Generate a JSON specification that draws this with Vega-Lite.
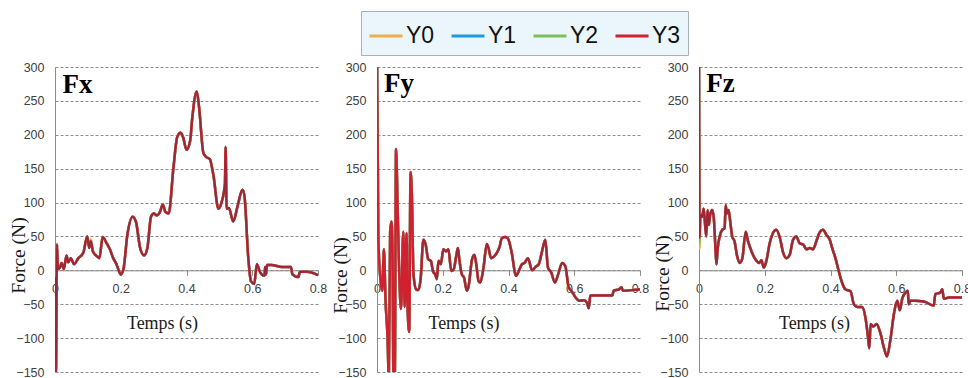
{
  "$schema": "https://vega.github.io/schema/vega-lite/v6.json",
  "background": "white",
  "padding": {"left": 8, "top": 10, "right": 0, "bottom": 2},
  "spacing": 59,
  "bounds": "flush",
  "resolve": {"scale": {"color": "shared"}},
  "config": {
    "view": {"stroke": null},
    "axis": {"labelFont": "Liberation Sans", "labelFontSize": 12.5, "labelColor": "#404040", "titleFont": "Liberation Serif", "titleFontWeight": "normal", "titleColor": "#1a1a1a", "domainColor": "#8c8c8c", "tickColor": "#8c8c8c", "gridColor": "#8c8c8c", "gridDash": [3, 2]},
    "axisX": {"tickSize": 5, "labelPadding": 7, "titleFontSize": 18, "titleBaseline": "alphabetic", "titleAlign": "center", "grid": false},
    "axisY": {"ticks": false, "tickSize": 0, "labelPadding": 11, "titleFontSize": 19.5, "titleAngle": 270, "titleBaseline": "bottom", "titleAlign": "center", "grid": true},
    "legend": {"fillColor": "#eaf6fc", "strokeColor": "#a8b0b8", "padding": 7, "labelFont": "Liberation Sans", "labelFontSize": 23, "labelColor": "#111111", "labelOffset": 2, "columnPadding": 10, "symbolType": "stroke", "symbolSize": 1089, "symbolStrokeWidth": 3}
  },
  "datasets": {
    "d": [
      {"c":"Fx","t":0.001,"Y0":-10,"Y1":-10,"Y2":-10,"Y3":-10},
      {"c":"Fx","t":0.003,"Y0":-150,"Y1":-150,"Y2":-150,"Y3":-150},
      {"c":"Fx","t":0.006,"Y0":38,"Y1":38,"Y2":38,"Y3":38},
      {"c":"Fx","t":0.009,"Y0":2,"Y1":2,"Y2":2,"Y3":2},
      {"c":"Fx","t":0.015,"Y0":4,"Y1":4,"Y2":4,"Y3":4},
      {"c":"Fx","t":0.02,"Y0":11,"Y1":11,"Y2":11,"Y3":11},
      {"c":"Fx","t":0.027,"Y0":2,"Y1":2,"Y2":2,"Y3":2},
      {"c":"Fx","t":0.035,"Y0":22,"Y1":22,"Y2":22,"Y3":22},
      {"c":"Fx","t":0.04,"Y0":12,"Y1":12,"Y2":12,"Y3":12},
      {"c":"Fx","t":0.048,"Y0":18,"Y1":18,"Y2":18,"Y3":18},
      {"c":"Fx","t":0.058,"Y0":9,"Y1":9,"Y2":9,"Y3":9},
      {"c":"Fx","t":0.071,"Y0":18,"Y1":18,"Y2":18,"Y3":18},
      {"c":"Fx","t":0.086,"Y0":26,"Y1":26,"Y2":26,"Y3":26},
      {"c":"Fx","t":0.098,"Y0":47,"Y1":50,"Y2":50,"Y3":50},
      {"c":"Fx","t":0.104,"Y0":38,"Y1":33,"Y2":33,"Y3":33},
      {"c":"Fx","t":0.109,"Y0":46,"Y1":43,"Y2":43,"Y3":43},
      {"c":"Fx","t":0.115,"Y0":30,"Y1":28,"Y2":28,"Y3":28},
      {"c":"Fx","t":0.127,"Y0":21,"Y1":21,"Y2":21,"Y3":21},
      {"c":"Fx","t":0.135,"Y0":18,"Y1":18,"Y2":18,"Y3":18},
      {"c":"Fx","t":0.145,"Y0":49,"Y1":49,"Y2":49,"Y3":49},
      {"c":"Fx","t":0.157,"Y0":40,"Y1":40,"Y2":40,"Y3":40},
      {"c":"Fx","t":0.167,"Y0":31,"Y1":31,"Y2":31,"Y3":31},
      {"c":"Fx","t":0.177,"Y0":18,"Y1":18,"Y2":18,"Y3":18},
      {"c":"Fx","t":0.186,"Y0":10,"Y1":10,"Y2":10,"Y3":10},
      {"c":"Fx","t":0.193,"Y0":1,"Y1":1,"Y2":1,"Y3":1},
      {"c":"Fx","t":0.2,"Y0":-6,"Y1":-6,"Y2":-6,"Y3":-6},
      {"c":"Fx","t":0.208,"Y0":1,"Y1":1,"Y2":1,"Y3":1},
      {"c":"Fx","t":0.22,"Y0":52,"Y1":52,"Y2":52,"Y3":52},
      {"c":"Fx","t":0.236,"Y0":79,"Y1":79,"Y2":79,"Y3":79},
      {"c":"Fx","t":0.246,"Y0":72,"Y1":72,"Y2":72,"Y3":72},
      {"c":"Fx","t":0.259,"Y0":33,"Y1":33,"Y2":33,"Y3":33},
      {"c":"Fx","t":0.271,"Y0":22,"Y1":22,"Y2":22,"Y3":22},
      {"c":"Fx","t":0.281,"Y0":33,"Y1":33,"Y2":33,"Y3":33},
      {"c":"Fx","t":0.292,"Y0":79,"Y1":79,"Y2":79,"Y3":79},
      {"c":"Fx","t":0.301,"Y0":84,"Y1":84,"Y2":84,"Y3":84},
      {"c":"Fx","t":0.309,"Y0":81,"Y1":81,"Y2":81,"Y3":81},
      {"c":"Fx","t":0.319,"Y0":86,"Y1":86,"Y2":86,"Y3":86},
      {"c":"Fx","t":0.328,"Y0":97,"Y1":97,"Y2":97,"Y3":97},
      {"c":"Fx","t":0.336,"Y0":86,"Y1":86,"Y2":86,"Y3":86},
      {"c":"Fx","t":0.346,"Y0":84,"Y1":84,"Y2":84,"Y3":84},
      {"c":"Fx","t":0.36,"Y0":150,"Y1":150,"Y2":150,"Y3":150},
      {"c":"Fx","t":0.372,"Y0":197,"Y1":197,"Y2":197,"Y3":197},
      {"c":"Fx","t":0.382,"Y0":203,"Y1":203,"Y2":203,"Y3":203},
      {"c":"Fx","t":0.39,"Y0":196,"Y1":196,"Y2":196,"Y3":196},
      {"c":"Fx","t":0.4,"Y0":178,"Y1":178,"Y2":178,"Y3":178},
      {"c":"Fx","t":0.411,"Y0":191,"Y1":191,"Y2":191,"Y3":191},
      {"c":"Fx","t":0.418,"Y0":227,"Y1":227,"Y2":227,"Y3":227},
      {"c":"Fx","t":0.431,"Y0":264,"Y1":264,"Y2":264,"Y3":264},
      {"c":"Fx","t":0.438,"Y0":242,"Y1":242,"Y2":242,"Y3":242},
      {"c":"Fx","t":0.451,"Y0":174,"Y1":174,"Y2":174,"Y3":174},
      {"c":"Fx","t":0.458,"Y0":168,"Y1":168,"Y2":168,"Y3":168},
      {"c":"Fx","t":0.471,"Y0":164,"Y1":164,"Y2":164,"Y3":164},
      {"c":"Fx","t":0.482,"Y0":140,"Y1":140,"Y2":140,"Y3":140},
      {"c":"Fx","t":0.497,"Y0":91,"Y1":91,"Y2":91,"Y3":91},
      {"c":"Fx","t":0.507,"Y0":101,"Y1":101,"Y2":101,"Y3":101},
      {"c":"Fx","t":0.517,"Y0":128,"Y1":128,"Y2":128,"Y3":128},
      {"c":"Fx","t":0.519,"Y0":182,"Y1":182,"Y2":182,"Y3":182},
      {"c":"Fx","t":0.522,"Y0":91,"Y1":91,"Y2":91,"Y3":91},
      {"c":"Fx","t":0.529,"Y0":92,"Y1":92,"Y2":92,"Y3":92},
      {"c":"Fx","t":0.542,"Y0":72,"Y1":72,"Y2":72,"Y3":72},
      {"c":"Fx","t":0.556,"Y0":96,"Y1":96,"Y2":96,"Y3":96},
      {"c":"Fx","t":0.57,"Y0":119,"Y1":119,"Y2":119,"Y3":119},
      {"c":"Fx","t":0.576,"Y0":111,"Y1":111,"Y2":111,"Y3":111},
      {"c":"Fx","t":0.588,"Y0":18,"Y1":18,"Y2":18,"Y3":18},
      {"c":"Fx","t":0.596,"Y0":-16,"Y1":-16,"Y2":-16,"Y3":-16},
      {"c":"Fx","t":0.606,"Y0":-20,"Y1":-20,"Y2":-20,"Y3":-20},
      {"c":"Fx","t":0.614,"Y0":9,"Y1":9,"Y2":9,"Y3":9},
      {"c":"Fx","t":0.624,"Y0":-3,"Y1":-3,"Y2":-3,"Y3":-3},
      {"c":"Fx","t":0.637,"Y0":-8,"Y1":-8,"Y2":-8,"Y3":-8},
      {"c":"Fx","t":0.639,"Y0":5,"Y1":5,"Y2":5,"Y3":5},
      {"c":"Fx","t":0.642,"Y0":-6,"Y1":-6,"Y2":-6,"Y3":-6},
      {"c":"Fx","t":0.645,"Y0":8,"Y1":8,"Y2":8,"Y3":8},
      {"c":"Fx","t":0.659,"Y0":8,"Y1":8,"Y2":8,"Y3":8},
      {"c":"Fx","t":0.69,"Y0":5,"Y1":5,"Y2":5,"Y3":5},
      {"c":"Fx","t":0.718,"Y0":5,"Y1":5,"Y2":5,"Y3":5},
      {"c":"Fx","t":0.722,"Y0":-6,"Y1":-6,"Y2":-6,"Y3":-6},
      {"c":"Fx","t":0.74,"Y0":-10,"Y1":-10,"Y2":-10,"Y3":-10},
      {"c":"Fx","t":0.745,"Y0":-2,"Y1":-2,"Y2":-2,"Y3":-2},
      {"c":"Fx","t":0.766,"Y0":-2,"Y1":-2,"Y2":-2,"Y3":-2},
      {"c":"Fx","t":0.8,"Y0":-7,"Y1":-7,"Y2":-7,"Y3":-7},

      {"c":"Fy","t":0.0,"Y0":320,"Y1":320,"Y2":320,"Y3":320},
      {"c":"Fy","t":0.004,"Y0":48,"Y1":48,"Y2":48,"Y3":48},
      {"c":"Fy","t":0.011,"Y0":-16,"Y1":-16,"Y2":-16,"Y3":-16},
      {"c":"Fy","t":0.016,"Y0":-30,"Y1":-30,"Y2":-30,"Y3":-30},
      {"c":"Fy","t":0.021,"Y0":31,"Y1":31,"Y2":31,"Y3":31},
      {"c":"Fy","t":0.026,"Y0":-45,"Y1":-45,"Y2":-45,"Y3":-45},
      {"c":"Fy","t":0.032,"Y0":-98,"Y1":-98,"Y2":-98,"Y3":-98},
      {"c":"Fy","t":0.036,"Y0":-160,"Y1":-160,"Y2":-160,"Y3":-160},
      {"c":"Fy","t":0.04,"Y0":57,"Y1":57,"Y2":57,"Y3":57},
      {"c":"Fy","t":0.044,"Y0":72,"Y1":72,"Y2":72,"Y3":72},
      {"c":"Fy","t":0.047,"Y0":33,"Y1":33,"Y2":33,"Y3":33},
      {"c":"Fy","t":0.05,"Y0":-160,"Y1":-160,"Y2":-160,"Y3":-160},
      {"c":"Fy","t":0.054,"Y0":-160,"Y1":-160,"Y2":-160,"Y3":-160},
      {"c":"Fy","t":0.058,"Y0":179,"Y1":179,"Y2":179,"Y3":179},
      {"c":"Fy","t":0.063,"Y0":86,"Y1":86,"Y2":86,"Y3":86},
      {"c":"Fy","t":0.068,"Y0":-11,"Y1":-11,"Y2":-11,"Y3":-11},
      {"c":"Fy","t":0.073,"Y0":-57,"Y1":-57,"Y2":-57,"Y3":-57},
      {"c":"Fy","t":0.08,"Y0":57,"Y1":57,"Y2":57,"Y3":57},
      {"c":"Fy","t":0.084,"Y0":-54,"Y1":-54,"Y2":-54,"Y3":-54},
      {"c":"Fy","t":0.09,"Y0":55,"Y1":55,"Y2":55,"Y3":55},
      {"c":"Fy","t":0.093,"Y0":-54,"Y1":-54,"Y2":-54,"Y3":-54},
      {"c":"Fy","t":0.098,"Y0":-91,"Y1":-91,"Y2":-91,"Y3":-91},
      {"c":"Fy","t":0.102,"Y0":145,"Y1":145,"Y2":145,"Y3":145},
      {"c":"Fy","t":0.106,"Y0":111,"Y1":111,"Y2":111,"Y3":111},
      {"c":"Fy","t":0.111,"Y0":-6,"Y1":-6,"Y2":-6,"Y3":-6},
      {"c":"Fy","t":0.119,"Y0":-28,"Y1":-28,"Y2":-28,"Y3":-28},
      {"c":"Fy","t":0.126,"Y0":-29,"Y1":-29,"Y2":-29,"Y3":-29},
      {"c":"Fy","t":0.133,"Y0":-11,"Y1":-11,"Y2":-11,"Y3":-11},
      {"c":"Fy","t":0.141,"Y0":45,"Y1":45,"Y2":45,"Y3":45},
      {"c":"Fy","t":0.148,"Y0":38,"Y1":38,"Y2":38,"Y3":38},
      {"c":"Fy","t":0.156,"Y0":16,"Y1":16,"Y2":16,"Y3":16},
      {"c":"Fy","t":0.164,"Y0":14,"Y1":14,"Y2":14,"Y3":14},
      {"c":"Fy","t":0.17,"Y0":-1,"Y1":-1,"Y2":-1,"Y3":-1},
      {"c":"Fy","t":0.177,"Y0":-6,"Y1":-6,"Y2":-6,"Y3":-6},
      {"c":"Fy","t":0.182,"Y0":-13,"Y1":-13,"Y2":-13,"Y3":-13},
      {"c":"Fy","t":0.187,"Y0":14,"Y1":14,"Y2":14,"Y3":14},
      {"c":"Fy","t":0.194,"Y0":9,"Y1":9,"Y2":9,"Y3":9},
      {"c":"Fy","t":0.202,"Y0":31,"Y1":31,"Y2":31,"Y3":31},
      {"c":"Fy","t":0.21,"Y0":28,"Y1":28,"Y2":28,"Y3":28},
      {"c":"Fy","t":0.217,"Y0":31,"Y1":31,"Y2":31,"Y3":31},
      {"c":"Fy","t":0.226,"Y0":-1,"Y1":-1,"Y2":-1,"Y3":-1},
      {"c":"Fy","t":0.233,"Y0":1,"Y1":1,"Y2":1,"Y3":1},
      {"c":"Fy","t":0.241,"Y0":21,"Y1":21,"Y2":21,"Y3":21},
      {"c":"Fy","t":0.246,"Y0":33,"Y1":33,"Y2":33,"Y3":33},
      {"c":"Fy","t":0.251,"Y0":14,"Y1":14,"Y2":14,"Y3":14},
      {"c":"Fy","t":0.258,"Y0":-6,"Y1":-6,"Y2":-6,"Y3":-6},
      {"c":"Fy","t":0.265,"Y0":-11,"Y1":-11,"Y2":-11,"Y3":-11},
      {"c":"Fy","t":0.273,"Y0":-30,"Y1":-30,"Y2":-30,"Y3":-30},
      {"c":"Fy","t":0.278,"Y0":-25,"Y1":-25,"Y2":-25,"Y3":-25},
      {"c":"Fy","t":0.289,"Y0":16,"Y1":16,"Y2":16,"Y3":16},
      {"c":"Fy","t":0.296,"Y0":23,"Y1":23,"Y2":23,"Y3":23},
      {"c":"Fy","t":0.302,"Y0":9,"Y1":9,"Y2":9,"Y3":9},
      {"c":"Fy","t":0.309,"Y0":-16,"Y1":-16,"Y2":-16,"Y3":-16},
      {"c":"Fy","t":0.314,"Y0":-18,"Y1":-18,"Y2":-18,"Y3":-18},
      {"c":"Fy","t":0.324,"Y0":4,"Y1":4,"Y2":4,"Y3":4},
      {"c":"Fy","t":0.334,"Y0":39,"Y1":39,"Y2":39,"Y3":39},
      {"c":"Fy","t":0.339,"Y0":33,"Y1":33,"Y2":33,"Y3":33},
      {"c":"Fy","t":0.347,"Y0":18,"Y1":18,"Y2":18,"Y3":18},
      {"c":"Fy","t":0.357,"Y0":21,"Y1":21,"Y2":21,"Y3":21},
      {"c":"Fy","t":0.365,"Y0":26,"Y1":26,"Y2":26,"Y3":26},
      {"c":"Fy","t":0.373,"Y0":35,"Y1":35,"Y2":35,"Y3":35},
      {"c":"Fy","t":0.38,"Y0":48,"Y1":48,"Y2":48,"Y3":48},
      {"c":"Fy","t":0.39,"Y0":49,"Y1":49,"Y2":49,"Y3":49},
      {"c":"Fy","t":0.398,"Y0":47,"Y1":47,"Y2":47,"Y3":47},
      {"c":"Fy","t":0.409,"Y0":28,"Y1":28,"Y2":28,"Y3":28},
      {"c":"Fy","t":0.423,"Y0":-8,"Y1":-8,"Y2":-8,"Y3":-8},
      {"c":"Fy","t":0.433,"Y0":1,"Y1":1,"Y2":1,"Y3":1},
      {"c":"Fy","t":0.441,"Y0":9,"Y1":9,"Y2":9,"Y3":9},
      {"c":"Fy","t":0.449,"Y0":11,"Y1":11,"Y2":11,"Y3":11},
      {"c":"Fy","t":0.459,"Y0":18,"Y1":18,"Y2":18,"Y3":18},
      {"c":"Fy","t":0.472,"Y0":0,"Y1":0,"Y2":0,"Y3":0},
      {"c":"Fy","t":0.482,"Y0":5,"Y1":5,"Y2":5,"Y3":5},
      {"c":"Fy","t":0.492,"Y0":9,"Y1":9,"Y2":9,"Y3":9},
      {"c":"Fy","t":0.502,"Y0":28,"Y1":28,"Y2":28,"Y3":28},
      {"c":"Fy","t":0.512,"Y0":45,"Y1":45,"Y2":45,"Y3":45},
      {"c":"Fy","t":0.52,"Y0":4,"Y1":4,"Y2":4,"Y3":4},
      {"c":"Fy","t":0.53,"Y0":-3,"Y1":-3,"Y2":-3,"Y3":-3},
      {"c":"Fy","t":0.541,"Y0":-18,"Y1":-18,"Y2":-18,"Y3":-18},
      {"c":"Fy","t":0.551,"Y0":-6,"Y1":-6,"Y2":-6,"Y3":-6},
      {"c":"Fy","t":0.563,"Y0":11,"Y1":11,"Y2":11,"Y3":11},
      {"c":"Fy","t":0.573,"Y0":6,"Y1":6,"Y2":6,"Y3":6},
      {"c":"Fy","t":0.583,"Y0":-25,"Y1":-25,"Y2":-25,"Y3":-25},
      {"c":"Fy","t":0.591,"Y0":-30,"Y1":-30,"Y2":-30,"Y3":-30},
      {"c":"Fy","t":0.604,"Y0":-40,"Y1":-40,"Y2":-40,"Y3":-40},
      {"c":"Fy","t":0.616,"Y0":-45,"Y1":-45,"Y2":-45,"Y3":-45},
      {"c":"Fy","t":0.629,"Y0":-44,"Y1":-44,"Y2":-44,"Y3":-44},
      {"c":"Fy","t":0.639,"Y0":-48,"Y1":-48,"Y2":-48,"Y3":-48},
      {"c":"Fy","t":0.644,"Y0":-56,"Y1":-56,"Y2":-56,"Y3":-56},
      {"c":"Fy","t":0.649,"Y0":-37,"Y1":-37,"Y2":-37,"Y3":-37},
      {"c":"Fy","t":0.716,"Y0":-37,"Y1":-37,"Y2":-37,"Y3":-37},
      {"c":"Fy","t":0.72,"Y0":-30,"Y1":-30,"Y2":-30,"Y3":-30},
      {"c":"Fy","t":0.736,"Y0":-28,"Y1":-28,"Y2":-28,"Y3":-28},
      {"c":"Fy","t":0.744,"Y0":-25,"Y1":-25,"Y2":-25,"Y3":-25},
      {"c":"Fy","t":0.748,"Y0":-30,"Y1":-30,"Y2":-30,"Y3":-30},
      {"c":"Fy","t":0.78,"Y0":-29,"Y1":-29,"Y2":-29,"Y3":-29},
      {"c":"Fy","t":0.8,"Y0":-28,"Y1":-28,"Y2":-28,"Y3":-28},

      {"c":"Fz","t":0.0,"Y0":320,"Y1":320,"Y2":320,"Y3":320},
      {"c":"Fz","t":0.002,"Y0":33,"Y1":48,"Y2":40,"Y3":48},
      {"c":"Fz","t":0.004,"Y0":82,"Y1":82,"Y2":82,"Y3":82},
      {"c":"Fz","t":0.01,"Y0":79,"Y1":79,"Y2":79,"Y3":79},
      {"c":"Fz","t":0.014,"Y0":91,"Y1":91,"Y2":91,"Y3":91},
      {"c":"Fz","t":0.017,"Y0":77,"Y1":77,"Y2":77,"Y3":77},
      {"c":"Fz","t":0.022,"Y0":50,"Y1":50,"Y2":50,"Y3":50},
      {"c":"Fz","t":0.026,"Y0":89,"Y1":89,"Y2":89,"Y3":89},
      {"c":"Fz","t":0.03,"Y0":67,"Y1":67,"Y2":67,"Y3":67},
      {"c":"Fz","t":0.034,"Y0":82,"Y1":82,"Y2":82,"Y3":82},
      {"c":"Fz","t":0.04,"Y0":89,"Y1":89,"Y2":89,"Y3":89},
      {"c":"Fz","t":0.045,"Y0":77,"Y1":77,"Y2":77,"Y3":77},
      {"c":"Fz","t":0.05,"Y0":33,"Y1":33,"Y2":33,"Y3":33},
      {"c":"Fz","t":0.053,"Y0":9,"Y1":9,"Y2":9,"Y3":9},
      {"c":"Fz","t":0.057,"Y0":33,"Y1":33,"Y2":33,"Y3":33},
      {"c":"Fz","t":0.063,"Y0":50,"Y1":50,"Y2":50,"Y3":50},
      {"c":"Fz","t":0.071,"Y0":60,"Y1":60,"Y2":60,"Y3":60},
      {"c":"Fz","t":0.078,"Y0":62,"Y1":62,"Y2":62,"Y3":62},
      {"c":"Fz","t":0.081,"Y0":96,"Y1":96,"Y2":96,"Y3":96},
      {"c":"Fz","t":0.085,"Y0":84,"Y1":84,"Y2":84,"Y3":84},
      {"c":"Fz","t":0.09,"Y0":89,"Y1":89,"Y2":89,"Y3":89},
      {"c":"Fz","t":0.095,"Y0":72,"Y1":72,"Y2":72,"Y3":72},
      {"c":"Fz","t":0.101,"Y0":50,"Y1":50,"Y2":50,"Y3":50},
      {"c":"Fz","t":0.108,"Y0":43,"Y1":43,"Y2":43,"Y3":43},
      {"c":"Fz","t":0.116,"Y0":21,"Y1":21,"Y2":21,"Y3":21},
      {"c":"Fz","t":0.124,"Y0":11,"Y1":11,"Y2":11,"Y3":11},
      {"c":"Fz","t":0.132,"Y0":18,"Y1":18,"Y2":18,"Y3":18},
      {"c":"Fz","t":0.142,"Y0":57,"Y1":57,"Y2":57,"Y3":57},
      {"c":"Fz","t":0.149,"Y0":43,"Y1":43,"Y2":43,"Y3":43},
      {"c":"Fz","t":0.156,"Y0":33,"Y1":33,"Y2":33,"Y3":33},
      {"c":"Fz","t":0.164,"Y0":23,"Y1":23,"Y2":23,"Y3":23},
      {"c":"Fz","t":0.172,"Y0":16,"Y1":16,"Y2":16,"Y3":16},
      {"c":"Fz","t":0.183,"Y0":11,"Y1":11,"Y2":11,"Y3":11},
      {"c":"Fz","t":0.19,"Y0":15,"Y1":15,"Y2":15,"Y3":15},
      {"c":"Fz","t":0.197,"Y0":4,"Y1":4,"Y2":4,"Y3":4},
      {"c":"Fz","t":0.205,"Y0":14,"Y1":14,"Y2":14,"Y3":14},
      {"c":"Fz","t":0.215,"Y0":40,"Y1":40,"Y2":40,"Y3":40},
      {"c":"Fz","t":0.225,"Y0":55,"Y1":55,"Y2":55,"Y3":55},
      {"c":"Fz","t":0.235,"Y0":60,"Y1":60,"Y2":60,"Y3":60},
      {"c":"Fz","t":0.246,"Y0":48,"Y1":48,"Y2":48,"Y3":48},
      {"c":"Fz","t":0.256,"Y0":26,"Y1":26,"Y2":26,"Y3":26},
      {"c":"Fz","t":0.266,"Y0":18,"Y1":18,"Y2":18,"Y3":18},
      {"c":"Fz","t":0.276,"Y0":23,"Y1":23,"Y2":23,"Y3":23},
      {"c":"Fz","t":0.286,"Y0":45,"Y1":45,"Y2":45,"Y3":45},
      {"c":"Fz","t":0.296,"Y0":50,"Y1":50,"Y2":50,"Y3":50},
      {"c":"Fz","t":0.306,"Y0":40,"Y1":40,"Y2":40,"Y3":40},
      {"c":"Fz","t":0.317,"Y0":38,"Y1":38,"Y2":38,"Y3":38},
      {"c":"Fz","t":0.327,"Y0":31,"Y1":31,"Y2":31,"Y3":31},
      {"c":"Fz","t":0.337,"Y0":33,"Y1":33,"Y2":33,"Y3":33},
      {"c":"Fz","t":0.347,"Y0":31,"Y1":31,"Y2":31,"Y3":31},
      {"c":"Fz","t":0.357,"Y0":43,"Y1":43,"Y2":43,"Y3":43},
      {"c":"Fz","t":0.367,"Y0":56,"Y1":56,"Y2":56,"Y3":56},
      {"c":"Fz","t":0.377,"Y0":60,"Y1":60,"Y2":60,"Y3":60},
      {"c":"Fz","t":0.388,"Y0":52,"Y1":52,"Y2":52,"Y3":52},
      {"c":"Fz","t":0.398,"Y0":45,"Y1":45,"Y2":45,"Y3":45},
      {"c":"Fz","t":0.405,"Y0":33,"Y1":33,"Y2":33,"Y3":33},
      {"c":"Fz","t":0.415,"Y0":18,"Y1":18,"Y2":18,"Y3":18},
      {"c":"Fz","t":0.425,"Y0":-1,"Y1":-1,"Y2":-1,"Y3":-1},
      {"c":"Fz","t":0.435,"Y0":-18,"Y1":-18,"Y2":-18,"Y3":-18},
      {"c":"Fz","t":0.445,"Y0":-28,"Y1":-28,"Y2":-28,"Y3":-28},
      {"c":"Fz","t":0.461,"Y0":-31,"Y1":-31,"Y2":-31,"Y3":-31},
      {"c":"Fz","t":0.471,"Y0":-50,"Y1":-50,"Y2":-50,"Y3":-50},
      {"c":"Fz","t":0.481,"Y0":-54,"Y1":-54,"Y2":-54,"Y3":-54},
      {"c":"Fz","t":0.496,"Y0":-54,"Y1":-54,"Y2":-54,"Y3":-54},
      {"c":"Fz","t":0.506,"Y0":-69,"Y1":-69,"Y2":-69,"Y3":-69},
      {"c":"Fz","t":0.514,"Y0":-98,"Y1":-98,"Y2":-98,"Y3":-98},
      {"c":"Fz","t":0.518,"Y0":-115,"Y1":-115,"Y2":-115,"Y3":-115},
      {"c":"Fz","t":0.522,"Y0":-79,"Y1":-79,"Y2":-79,"Y3":-79},
      {"c":"Fz","t":0.53,"Y0":-83,"Y1":-83,"Y2":-83,"Y3":-83},
      {"c":"Fz","t":0.54,"Y0":-79,"Y1":-79,"Y2":-79,"Y3":-79},
      {"c":"Fz","t":0.552,"Y0":-93,"Y1":-93,"Y2":-93,"Y3":-93},
      {"c":"Fz","t":0.564,"Y0":-117,"Y1":-117,"Y2":-117,"Y3":-117},
      {"c":"Fz","t":0.572,"Y0":-127,"Y1":-127,"Y2":-127,"Y3":-127},
      {"c":"Fz","t":0.582,"Y0":-103,"Y1":-103,"Y2":-103,"Y3":-103},
      {"c":"Fz","t":0.593,"Y0":-64,"Y1":-64,"Y2":-64,"Y3":-64},
      {"c":"Fz","t":0.603,"Y0":-45,"Y1":-45,"Y2":-45,"Y3":-45},
      {"c":"Fz","t":0.611,"Y0":-59,"Y1":-59,"Y2":-59,"Y3":-59},
      {"c":"Fz","t":0.618,"Y0":-42,"Y1":-42,"Y2":-42,"Y3":-42},
      {"c":"Fz","t":0.628,"Y0":-33,"Y1":-33,"Y2":-33,"Y3":-33},
      {"c":"Fz","t":0.635,"Y0":-30,"Y1":-30,"Y2":-30,"Y3":-30},
      {"c":"Fz","t":0.638,"Y0":-50,"Y1":-50,"Y2":-50,"Y3":-50},
      {"c":"Fz","t":0.643,"Y0":-45,"Y1":-45,"Y2":-45,"Y3":-45},
      {"c":"Fz","t":0.655,"Y0":-45,"Y1":-45,"Y2":-45,"Y3":-45},
      {"c":"Fz","t":0.684,"Y0":-46,"Y1":-46,"Y2":-46,"Y3":-46},
      {"c":"Fz","t":0.714,"Y0":-52,"Y1":-52,"Y2":-52,"Y3":-52},
      {"c":"Fz","t":0.719,"Y0":-35,"Y1":-35,"Y2":-35,"Y3":-35},
      {"c":"Fz","t":0.734,"Y0":-33,"Y1":-33,"Y2":-33,"Y3":-33},
      {"c":"Fz","t":0.74,"Y0":-28,"Y1":-28,"Y2":-28,"Y3":-28},
      {"c":"Fz","t":0.745,"Y0":-42,"Y1":-42,"Y2":-42,"Y3":-42},
      {"c":"Fz","t":0.76,"Y0":-40,"Y1":-40,"Y2":-40,"Y3":-40},
      {"c":"Fz","t":0.8,"Y0":-40,"Y1":-40,"Y2":-40,"Y3":-40}
    ],
    "labels": [
      {"c":"Fx","t":0.023,"value":262,"label":"Fx"},
      {"c":"Fy","t":0.021,"value":263,"label":"Fy"},
      {"c":"Fz","t":0.022,"value":263,"label":"Fz"}
    ]
  },
  "hconcat": [
    {
      "width": 263, "height": 305,
      "encoding": {
        "x": {"field": "t", "type": "quantitative", "scale": {"domain": [0, 0.8], "nice": false, "zero": false},
              "axis": {"values": [0, 0.2, 0.4, 0.6, 0.8], "format": "~g", "offset": -101.67, "grid": false, "labelFlush": false, "title": "Temps (s)", "titleX": 107, "titleY": 58}},
        "y": {"field": "value", "type": "quantitative", "scale": {"domain": [-150, 300], "nice": false},
              "axis": {"values": [-150, -100, -50, 0, 50, 100, 150, 200, 250, 300], "title": "Force (N)", "titleX": -27, "titleY": 188}}
      },
      "layer": [
        {
          "data": {"name": "d"},
          "transform": [{"filter": "datum.c === 'Fx'"}, {"fold": ["Y0", "Y1", "Y2", "Y3"], "as": ["series", "value"]}],
          "mark": {"type": "line", "clip": true, "strokeWidth": 2.5, "interpolate": "monotone"},
          "encoding": {
            "color": {"field": "series", "type": "nominal",
                      "scale": {"domain": ["Y0", "Y1", "Y2", "Y3"], "range": ["#eeae48", "#1e9ae2", "#7cbf5c", "#d22030"]},
                      "legend": {"title": null, "orient": "none", "direction": "horizontal", "legendX": 306, "legendY": -56}}
          }
        },
        {
          "data": {"name": "d"},
          "transform": [{"filter": "datum.c === 'Fx'"}, {"fold": ["Y3"], "as": ["series", "value"]}],
          "mark": {"type": "line", "clip": true, "strokeWidth": 1.3, "interpolate": "monotone", "color": "#8e2a3a"},
          "encoding": {}
        },
        {
          "data": {"name": "labels"},
          "transform": [{"filter": "datum.c === 'Fx'"}],
          "mark": {"type": "text", "align": "left", "baseline": "alphabetic", "font": "Liberation Serif", "fontSize": 27, "fontWeight": "bold", "color": "#000000"},
          "encoding": {"text": {"field": "label"}}
        }
      ]
    },
    {
      "width": 263, "height": 305,
      "encoding": {
        "x": {"field": "t", "type": "quantitative", "scale": {"domain": [0, 0.8], "nice": false, "zero": false},
              "axis": {"values": [0, 0.2, 0.4, 0.6, 0.8], "format": "~g", "offset": -101.67, "grid": false, "labelFlush": false, "title": "Temps (s)", "titleX": 86.5, "titleY": 58}},
        "y": {"field": "value", "type": "quantitative", "scale": {"domain": [-150, 300], "nice": false},
              "axis": {"values": [-150, -100, -50, 0, 50, 100, 150, 200, 250, 300], "title": "Force (N)", "titleX": -27, "titleY": 208}}
      },
      "layer": [
        {
          "data": {"name": "d"},
          "transform": [{"filter": "datum.c === 'Fy'"}, {"fold": ["Y0", "Y1", "Y2", "Y3"], "as": ["series", "value"]}],
          "mark": {"type": "line", "clip": true, "strokeWidth": 2.5, "interpolate": "monotone"},
          "encoding": {
            "color": {"field": "series", "type": "nominal",
                      "scale": {"domain": ["Y0", "Y1", "Y2", "Y3"], "range": ["#eeae48", "#1e9ae2", "#7cbf5c", "#d22030"]},
                      "legend": {"title": null, "orient": "none", "direction": "horizontal", "legendX": 306, "legendY": -56}}
          }
        },
        {
          "data": {"name": "d"},
          "transform": [{"filter": "datum.c === 'Fy' && datum.t > 0.11"}, {"fold": ["Y3"], "as": ["series", "value"]}],
          "mark": {"type": "line", "clip": true, "strokeWidth": 1.3, "interpolate": "monotone", "color": "#8e2a3a"},
          "encoding": {}
        },
        {
          "data": {"name": "labels"},
          "transform": [{"filter": "datum.c === 'Fy'"}],
          "mark": {"type": "text", "align": "left", "baseline": "alphabetic", "font": "Liberation Serif", "fontSize": 27, "fontWeight": "bold", "color": "#000000"},
          "encoding": {"text": {"field": "label"}}
        }
      ]
    },
    {
      "width": 263, "height": 305,
      "encoding": {
        "x": {"field": "t", "type": "quantitative", "scale": {"domain": [0, 0.8], "nice": false, "zero": false},
              "axis": {"values": [0, 0.2, 0.4, 0.6, 0.8], "format": "~g", "offset": -101.67, "grid": false, "labelFlush": false, "title": "Temps (s)", "titleX": 115, "titleY": 58}},
        "y": {"field": "value", "type": "quantitative", "scale": {"domain": [-150, 300], "nice": false},
              "axis": {"values": [-150, -100, -50, 0, 50, 100, 150, 200, 250, 300], "title": "Force (N)", "titleX": -27, "titleY": 206}}
      },
      "layer": [
        {
          "data": {"name": "d"},
          "transform": [{"filter": "datum.c === 'Fz'"}, {"fold": ["Y0", "Y1", "Y2", "Y3"], "as": ["series", "value"]}],
          "mark": {"type": "line", "clip": true, "strokeWidth": 2.5, "interpolate": "monotone"},
          "encoding": {
            "color": {"field": "series", "type": "nominal",
                      "scale": {"domain": ["Y0", "Y1", "Y2", "Y3"], "range": ["#eeae48", "#1e9ae2", "#7cbf5c", "#d22030"]},
                      "legend": {"title": null, "orient": "none", "direction": "horizontal", "legendX": 306, "legendY": -56}}
          }
        },
        {
          "data": {"name": "d"},
          "transform": [{"filter": "datum.c === 'Fz'"}, {"fold": ["Y3"], "as": ["series", "value"]}],
          "mark": {"type": "line", "clip": true, "strokeWidth": 1.3, "interpolate": "monotone", "color": "#8e2a3a"},
          "encoding": {}
        },
        {
          "data": {"name": "labels"},
          "transform": [{"filter": "datum.c === 'Fz'"}],
          "mark": {"type": "text", "align": "left", "baseline": "alphabetic", "font": "Liberation Serif", "fontSize": 27, "fontWeight": "bold", "color": "#000000"},
          "encoding": {"text": {"field": "label"}}
        }
      ]
    }
  ]
}
